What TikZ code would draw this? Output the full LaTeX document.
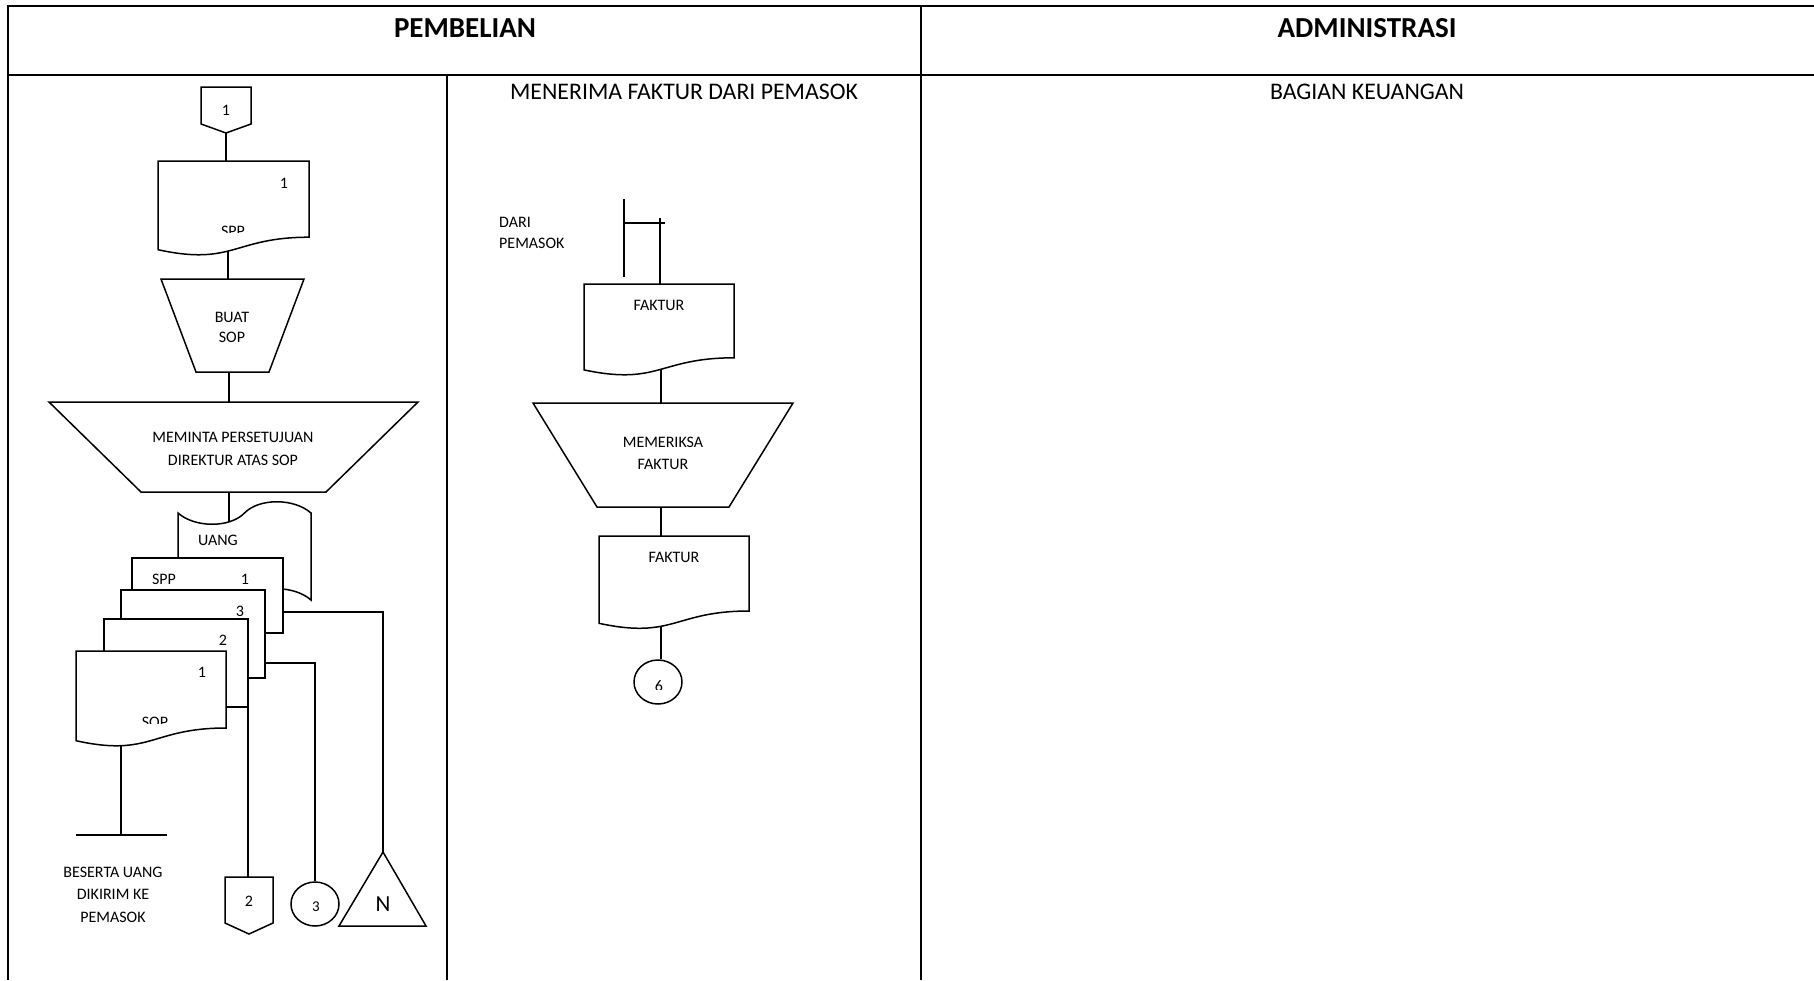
\documentclass[tikz,border=0pt]{standalone}
\usepackage{fontspec}
\setmainfont{Carlito}
\usetikzlibrary{shapes.geometric}
\pgfdeclarelayer{wires}
\pgfsetlayers{wires,main}
\begin{document}
\begin{tikzpicture}[x=1pt,y=-1pt,
  ln/.style={line width=1.5pt, line join=miter},
  shp/.style={ln, fill=white},
  rule/.style={line width=2.3pt},
  subrule/.style={line width=1.7pt},
  lbl/.style={inner sep=0pt, font=\fontsize{16}{20}\selectfont},
  big/.style={inner sep=0pt, font=\fontsize{23}{28}\selectfont},
  hdr/.style={inner sep=0pt, font=\fontsize{29}{34}\selectfont\bfseries},
  lane/.style={inner sep=0pt, font=\fontsize{23.8}{28}\selectfont},
  conn/.style={ln, draw, fill=white, ellipse, minimum width=48pt, minimum height=44pt, inner sep=0pt},
]
\useasboundingbox (0,0) rectangle (1814,980);

% ---------- table frame ----------
\draw[rule, line join=miter] (1814,6) -- (8,6) -- (8,980);
\draw[rule] (8,75) -- (1814,75);
\draw[rule] (921,6) -- (921,980);
\draw[subrule] (447,75) -- (447,980);

\node[hdr] (hPemb) at (465,28) {PEMBELIAN};
\node[hdr] (hAdm) at (1367,28) {ADMINISTRASI};
\node[lane] (lFaktur) at (684,92) {MENERIMA FAKTUR DARI PEMASOK};
\node[lane] (lKeu) at (1367,92) {BAGIAN KEUANGAN};

% ---------- purchasing lane ----------
% off-page connector 1
\draw[shp] (201,87) -- (251,87) -- (251,124) -- (226,133) -- (201,124) -- cycle;
\coordinate (op1) at (226,133);
\node[lbl] (op1t) at (226,110) {1};

% SPP document
\draw[shp] (158,161) -- (309,161) -- (309,237.2) .. controls (233.5,237.2) and (233.5,266.2) .. (158,249.7) -- cycle;
\coordinate (sppT) at (226,161);
\coordinate (sppB) at (228,245);
\node[lbl] (sppN) at (284,183) {1};
\begin{scope}
  \clip (158,215) rectangle (309,232);
  \node[lbl] (sppL) at (233,231) {SPP};
\end{scope}

% manual operation: BUAT SOP
\draw[shp] (161,279) -- (304,279) -- (269,372) -- (196,372) -- cycle;
\coordinate (buatT) at (228,279);
\coordinate (buatB) at (229,372);
\node[lbl] (buat1) at (232,317) {BUAT};
\node[lbl] (buat2) at (232,337) {SOP};

% manual operation: approval
\draw[shp] (49,402) -- (418,402) -- (326,492) -- (141,492) -- cycle;
\coordinate (mintaT) at (229,402);
\coordinate (mintaB) at (229,492);
\node[lbl] (minta1) at (233,437) {MEMINTA PERSETUJUAN};
\node[lbl] (minta2) at (233,460) {DIREKTUR ATAS SOP};

% money (punched tape)
\draw[shp] (178,513) .. controls (195,528) and (230,528) .. (244.5,513)
  .. controls (259,498) and (294,498) .. (311,513) -- (311,600)
  .. controls (294,585) and (259,585) .. (244.5,600)
  .. controls (230,615) and (195,615) .. (178,600) -- cycle;
\coordinate (uangT) at (229,530);
\node[lbl] (uang) at (218,540) {UANG};

% document stack
\draw[shp] (132,558) rectangle (283,633);
\node[lbl] (s1a) at (164,579) {SPP};
\node[lbl] (s1b) at (245,579) {1};
\coordinate (s1R) at (283,612);

\draw[shp] (121,590) rectangle (265,678);
\node[lbl] (s3) at (240,611) {3};
\coordinate (s3R) at (265,663);

\draw[shp] (104,619) rectangle (248,707);
\node[lbl] (s2) at (223,640) {2};
\coordinate (s2R) at (248,707);

\draw[shp] (76,651) -- (226,651) -- (226,728) .. controls (151,728) and (151,757.3) .. (76,740.7) -- cycle;
\node[lbl] (sopN) at (202,672) {1};
\begin{scope}
  \clip (76,700) rectangle (226,723);
  \node[lbl] (sopL) at (155,722.2) {SOP};
\end{scope}
\coordinate (sopB) at (121,735);

% terminators of the stack
\coordinate (endT) at (121,835);
\draw[ln] (76,835) -- (167,835);
\node[lbl] (kirim1) at (113,872) {BESERTA UANG};
\node[lbl] (kirim2) at (113,894) {DIKIRIM KE};
\node[lbl] (kirim3) at (113,917) {PEMASOK};

\draw[shp] (225,877) -- (273,877) -- (273,923) -- (249,934) -- (225,923) -- cycle;
\coordinate (op2) at (248,877);
\node[lbl] (op2t) at (249,901) {2};

\node[conn] (c3) at (315,904) {};
\node[lbl, font=\fontsize{15}{18}\selectfont] (c3t) at (316,907) {3};

\draw[shp] (383,852) -- (426,926) -- (339,926) -- cycle;
\coordinate (triA) at (383,852);
\node[big] (triN) at (383,904) {N};

% ---------- invoice lane ----------
\node[lbl, anchor=west] (dari1) at (499,222) {DARI};
\node[lbl, anchor=west] (dari2) at (499,243) {PEMASOK};
\coordinate (inA) at (624,199);
\coordinate (inB) at (624,277);
\coordinate (inC) at (660,218);

\draw[shp] (584,284) -- (734,284) -- (734,357.8) .. controls (659,357.8) and (659,385.8) .. (584,369.9) -- cycle;
\coordinate (f1T) at (660,284);
\coordinate (f1B) at (661,365);
\node[lbl] (f1) at (659,305) {FAKTUR};

\draw[shp] (533,403) -- (793,403) -- (729,507) -- (597,507) -- cycle;
\coordinate (cekT) at (661,403);
\coordinate (cekB) at (661,507);
\node[lbl] (cek1) at (663,442) {MEMERIKSA};
\node[lbl] (cek2) at (663,464) {FAKTUR};

\draw[shp] (599,536) -- (749,536) -- (749,611) .. controls (674,611) and (674,639.5) .. (599,623.3) -- cycle;
\coordinate (f2T) at (661,536);
\coordinate (f2B) at (661,615);
\node[lbl] (f2) at (674,557) {FAKTUR};

\node[conn] (c6) at (658,682) {};
\begin{scope}
  \clip (630,660) rectangle (690,689.5);
  \node[lbl] (c6t) at (659,686) {6};
\end{scope}

% ---------- flow lines ----------
\begin{pgfonlayer}{wires}
  \draw[ln] (op1) -- (sppT);
  \draw[ln] (sppB) -- (buatT);
  \draw[ln] (buatB) -- (mintaT);
  \draw[ln] (mintaB) -- (uangT);
  \draw[ln] (s1R) -- (s1R -| triA) -- (triA);
  \draw[ln] (s3R) -- (s3R -| c3.north) -- (c3.north);
  \draw[ln] (s2R) -- (op2);
  \draw[ln] (sopB) -- (endT);
  \draw[ln] (inA) -- (inB);
  \draw[ln] (inA |- 0,223) -- (665,223);
  \draw[ln] (inC) -- (f1T);
  \draw[ln] (f1B) -- (cekT);
  \draw[ln] (cekB) -- (f2T);
  \draw[ln] (f2B) -- (f2B |- c6.north);
\end{pgfonlayer}
\end{tikzpicture}
\end{document}
